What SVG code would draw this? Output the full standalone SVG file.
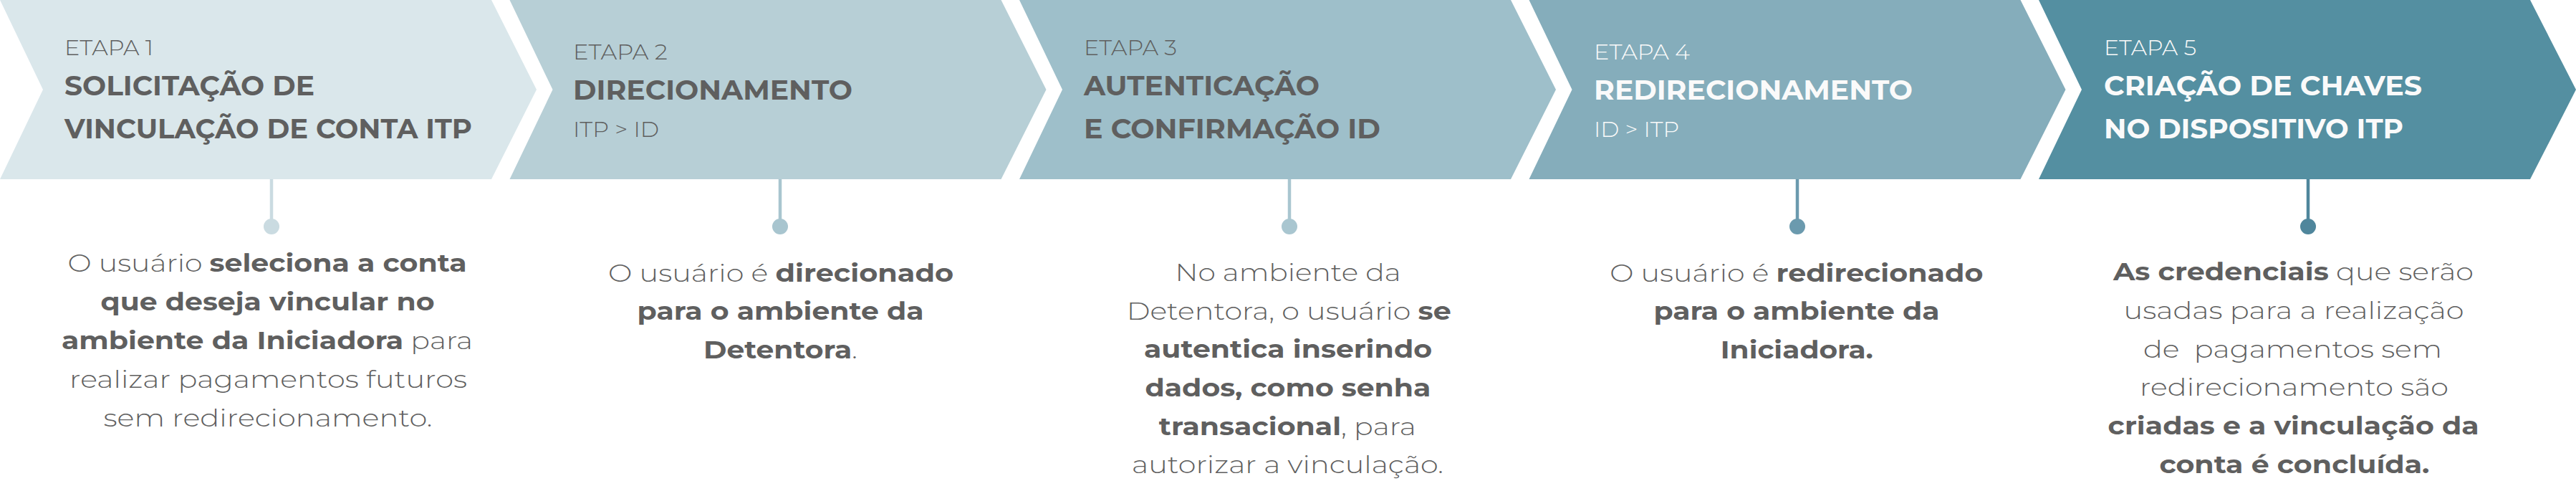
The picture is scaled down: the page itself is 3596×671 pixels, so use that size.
<svg xmlns="http://www.w3.org/2000/svg" width="3596" height="671" viewBox="0 0 3596 671">
<style>
text{font-family:"Montserrat","Inter","DejaVu Sans",sans-serif;}
.et{font-size:31px;font-weight:300;}
.ti{font-size:38px;font-weight:700;}
.sub{font-size:31px;font-weight:300;}
.dk{fill:#5f5f5f;}
.wh{fill:#fafafa;}
.bd{font-size:34px;font-weight:300;fill:#5f5f5f;white-space:pre;}
.b{font-weight:700;}
.stem{stroke-width:4.5;fill:none;}
</style>
<rect width="3596" height="671" fill="#ffffff"/>
<g id="etapa1">
<polygon points="0,0 686,0 749,125 686,250 0,250 60,125" fill="#dae7eb"/>
<text class="et dk" x="90" y="77" textLength="124" lengthAdjust="spacingAndGlyphs">ETAPA 1</text>
<text class="ti dk" x="90" y="132.5" textLength="349" lengthAdjust="spacingAndGlyphs">SOLICITAÇÃO DE</text>
<text class="ti dk" x="90" y="193" textLength="569" lengthAdjust="spacingAndGlyphs">VINCULAÇÃO DE CONTA ITP</text>
<text class="bd" x="94.5" y="379" textLength="557" lengthAdjust="spacingAndGlyphs">O usuário <tspan class="b">seleciona a conta</tspan></text>
<text class="bd" x="140.6" y="433" textLength="466" lengthAdjust="spacingAndGlyphs"><tspan class="b">que deseja vincular no</tspan></text>
<text class="bd" x="86" y="487" textLength="574" lengthAdjust="spacingAndGlyphs"><tspan class="b">ambiente da Iniciadora</tspan> para</text>
<text class="bd" x="97" y="541" textLength="555" lengthAdjust="spacingAndGlyphs">realizar pagamentos futuros</text>
<text class="bd" x="144.5" y="595" textLength="459" lengthAdjust="spacingAndGlyphs">sem redirecionamento.</text>
</g>
<g id="etapa2">
<polygon points="711.5,0 1397.5,0 1460.5,125 1397.5,250 711.5,250 771.5,125" fill="#b7cfd6"/>
<text class="et dk" x="800" y="82.7" textLength="132" lengthAdjust="spacingAndGlyphs">ETAPA 2</text>
<text class="ti dk" x="800" y="138.5" textLength="390" lengthAdjust="spacingAndGlyphs">DIRECIONAMENTO</text>
<text class="sub dk" x="800" y="190.7" textLength="120" lengthAdjust="spacingAndGlyphs">ITP &gt; ID</text>
<text class="bd" x="849" y="392.5" textLength="482" lengthAdjust="spacingAndGlyphs">O usuário é <tspan class="b">direcionado</tspan></text>
<text class="bd" x="889.6" y="446" textLength="400" lengthAdjust="spacingAndGlyphs"><tspan class="b">para o ambiente da</tspan></text>
<text class="bd" x="982" y="499.5" textLength="215" lengthAdjust="spacingAndGlyphs"><tspan class="b">Detentora</tspan>.</text>
</g>
<g id="etapa3">
<polygon points="1423,0 2109,0 2172,125 2109,250 1423,250 1483,125" fill="#9ebfca"/>
<text class="et dk" x="1513" y="77" textLength="130" lengthAdjust="spacingAndGlyphs">ETAPA 3</text>
<text class="ti dk" x="1513" y="132.5" textLength="329" lengthAdjust="spacingAndGlyphs">AUTENTICAÇÃO</text>
<text class="ti dk" x="1513" y="193" textLength="414" lengthAdjust="spacingAndGlyphs">E CONFIRMAÇÃO ID</text>
<text class="bd" x="1640.5" y="392" textLength="315" lengthAdjust="spacingAndGlyphs">No ambiente da</text>
<text class="bd" x="1572.7" y="445.5" textLength="453" lengthAdjust="spacingAndGlyphs">Detentora, o usuário <tspan class="b">se</tspan></text>
<text class="bd" x="1597" y="499" textLength="402" lengthAdjust="spacingAndGlyphs"><tspan class="b">autentica inserindo</tspan></text>
<text class="bd" x="1598.4" y="553" textLength="399" lengthAdjust="spacingAndGlyphs"><tspan class="b">dados, como senha</tspan></text>
<text class="bd" x="1617.8" y="606.5" textLength="359" lengthAdjust="spacingAndGlyphs"><tspan class="b">transacional</tspan>, para</text>
<text class="bd" x="1580" y="660" textLength="435" lengthAdjust="spacingAndGlyphs">autorizar a vinculação.</text>
</g>
<g id="etapa4">
<polygon points="2134.5,0 2820.5,0 2883.5,125 2820.5,250 2134.5,250 2194.5,125" fill="#85adbb"/>
<text class="et wh" x="2225" y="82.7" textLength="134" lengthAdjust="spacingAndGlyphs">ETAPA 4</text>
<text class="ti wh" x="2225" y="139" textLength="445" lengthAdjust="spacingAndGlyphs">REDIRECIONAMENTO</text>
<text class="sub wh" x="2225" y="190.7" textLength="119" lengthAdjust="spacingAndGlyphs">ID &gt; ITP</text>
<text class="bd" x="2247.3" y="392.5" textLength="521" lengthAdjust="spacingAndGlyphs">O usuário é <tspan class="b">redirecionado</tspan></text>
<text class="bd" x="2308.4" y="446" textLength="399" lengthAdjust="spacingAndGlyphs"><tspan class="b">para o ambiente da</tspan></text>
<text class="bd" x="2401.8" y="499.5" textLength="213" lengthAdjust="spacingAndGlyphs"><tspan class="b">Iniciadora.</tspan></text>
</g>
<g id="etapa5">
<polygon points="2846,0 3532,0 3596,125 3532,250 2846,250 2906,125" fill="#548fa1"/>
<text class="et wh" x="2937" y="77" textLength="129" lengthAdjust="spacingAndGlyphs">ETAPA 5</text>
<text class="ti wh" x="2937" y="132.5" textLength="444" lengthAdjust="spacingAndGlyphs">CRIAÇÃO DE CHAVES</text>
<text class="ti wh" x="2937" y="193" textLength="418" lengthAdjust="spacingAndGlyphs">NO DISPOSITIVO ITP</text>
<text class="bd" x="2950" y="391" textLength="503" lengthAdjust="spacingAndGlyphs"><tspan class="b">As credenciais</tspan> que serão</text>
<text class="bd" x="2964.5" y="445" textLength="475" lengthAdjust="spacingAndGlyphs">usadas para a realização</text>
<text class="bd" x="2992" y="498.5" textLength="417" lengthAdjust="spacingAndGlyphs">de  pagamentos sem</text>
<text class="bd" x="2987" y="552" textLength="431" lengthAdjust="spacingAndGlyphs">redirecionamento são</text>
<text class="bd" x="2942.6" y="606" textLength="518" lengthAdjust="spacingAndGlyphs"><tspan class="b">criadas e a vinculação da</tspan></text>
<text class="bd" x="3014.4" y="660" textLength="377" lengthAdjust="spacingAndGlyphs"><tspan class="b">conta é concluída.</tspan></text>
</g>
<g id="connectors">
<line class="stem" x1="379" y1="250" x2="379" y2="312" stroke="#cadbe1"/>
<circle cx="379" cy="316" r="11" fill="#cadbe1"/>
<line class="stem" x1="1089" y1="250" x2="1089" y2="312" stroke="#a8c5cf"/>
<circle cx="1089" cy="316" r="11" fill="#a8c5cf"/>
<line class="stem" x1="1800" y1="250" x2="1800" y2="312" stroke="#a9c6d0"/>
<circle cx="1800" cy="316" r="11" fill="#a9c6d0"/>
<line class="stem" x1="2509" y1="250" x2="2509" y2="312" stroke="#6b9aae"/>
<circle cx="2509" cy="316" r="11" fill="#6b9aae"/>
<line class="stem" x1="3222" y1="250" x2="3222" y2="312" stroke="#4f869c"/>
<circle cx="3222" cy="316" r="11" fill="#4f869c"/>
</g>
</svg>
